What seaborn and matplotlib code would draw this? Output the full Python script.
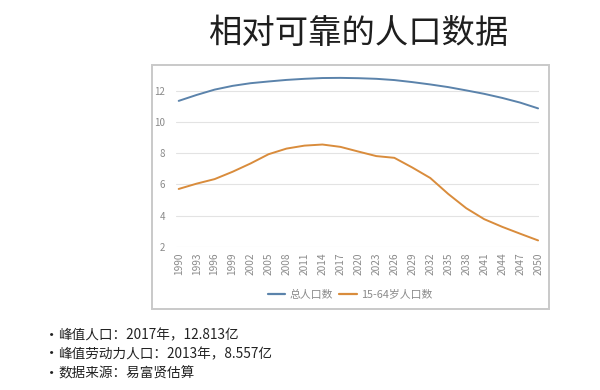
import numpy as np
import pandas as pd
import matplotlib
matplotlib.use('Agg')
import matplotlib.pyplot as plt
import matplotlib.patches as patches
import seaborn as sns

# Data (hundred millions of people)
years = ['1990', '1993', '1996', '1999', '2002', '2005', '2008', '2011', '2014', '2017', '2020',
         '2023', '2026', '2029', '2032', '2035', '2038', '2041', '2044', '2047', '2050']
total_pop = [11.34, 11.72, 12.06, 12.30, 12.47, 12.58, 12.68, 12.75, 12.80, 12.81, 12.79,
             12.75, 12.67, 12.54, 12.39, 12.22, 12.01, 11.79, 11.53, 11.23, 10.86]
work_pop = [5.71, 6.05, 6.34, 6.81, 7.34, 7.93, 8.29, 8.48, 8.55, 8.40, 8.10,
            7.81, 7.70, 7.08, 6.41, 5.39, 4.48, 3.78, 3.29, 2.85, 2.42]
series_names = ['总人口数', '15-64岁人口数']
y_ticks = [2, 4, 6, 8, 10, 12]
notes = ['峰值人口：2017年，12.813亿', '峰值劳动力人口：2013年，8.557亿', '数据来源：易富贤估算']

df = pd.DataFrame({
    'year': years * 2,
    'value': total_pop + work_pop,
    'series': [series_names[0]] * len(years) + [series_names[1]] * len(years),
})

sns.set_style('white')
plt.rcParams['font.family'] = ['Noto Sans CJK SC', 'DejaVu Sans']

fig = plt.figure(figsize=(6, 3.9), dpi=100)
fig.patch.set_facecolor('white')

# chart frame
frame = patches.Rectangle((152 / 600, 1 - 309 / 390), 397 / 600, 244 / 390,
                          transform=fig.transFigure, fill=False,
                          edgecolor='#c9c9c9', linewidth=1.4)
fig.patches.append(frame)

ax = fig.add_axes([176 / 600, 1 - 247 / 390, 363 / 600, 171 / 390])
sns.lineplot(data=df, x='year', y='value', hue='series', sort=False,
             palette=['#5b83ab', '#d98c3c'], linewidth=1.4, ax=ax, legend=False)

ax.set_xlim(-0.15, 20.05)
ax.set_ylim(2, 12.93)
ax.set_yticks(y_ticks)
ax.grid(axis='y', color='#e3e3e3', linewidth=0.8)
ax.set_axisbelow(True)
for s in ax.spines.values():
    s.set_visible(False)
ax.tick_params(axis='x', labelrotation=90, labelsize=7.3, colors='#8a8a8a', length=0, pad=4)
ax.tick_params(axis='y', labelsize=7, colors='#8a8a8a', length=0, pad=8)
ax.set_xlabel('')
ax.set_ylabel('')

handles = [plt.Line2D([], [], color='#5b83ab', lw=1.6),
           plt.Line2D([], [], color='#d98c3c', lw=1.6)]
leg = fig.legend(handles, series_names, loc='center', bbox_to_anchor=(350 / 600, 1 - 295 / 390),
                 ncol=2, frameon=False, fontsize=7.8, handlelength=1.6, handletextpad=0.4,
                 columnspacing=0.6)
for t in leg.get_texts():
    t.set_color('#8a8a8a')

fig.text(358 / 600, 1 - 33 / 390, '相对可靠的人口数据', ha='center', va='center',
         fontsize=24, color='#1e1e1e')

for i, line in enumerate(notes):
    y = 1 - (335 + i * 19) / 390
    fig.text(44 / 600, y, '•', ha='left', va='center', fontsize=11, color='#222222')
    fig.text(58 / 600, y, line, ha='left', va='center', fontsize=9.8, color='#222222')

fig.savefig('out.png', dpi=100, facecolor='white')
